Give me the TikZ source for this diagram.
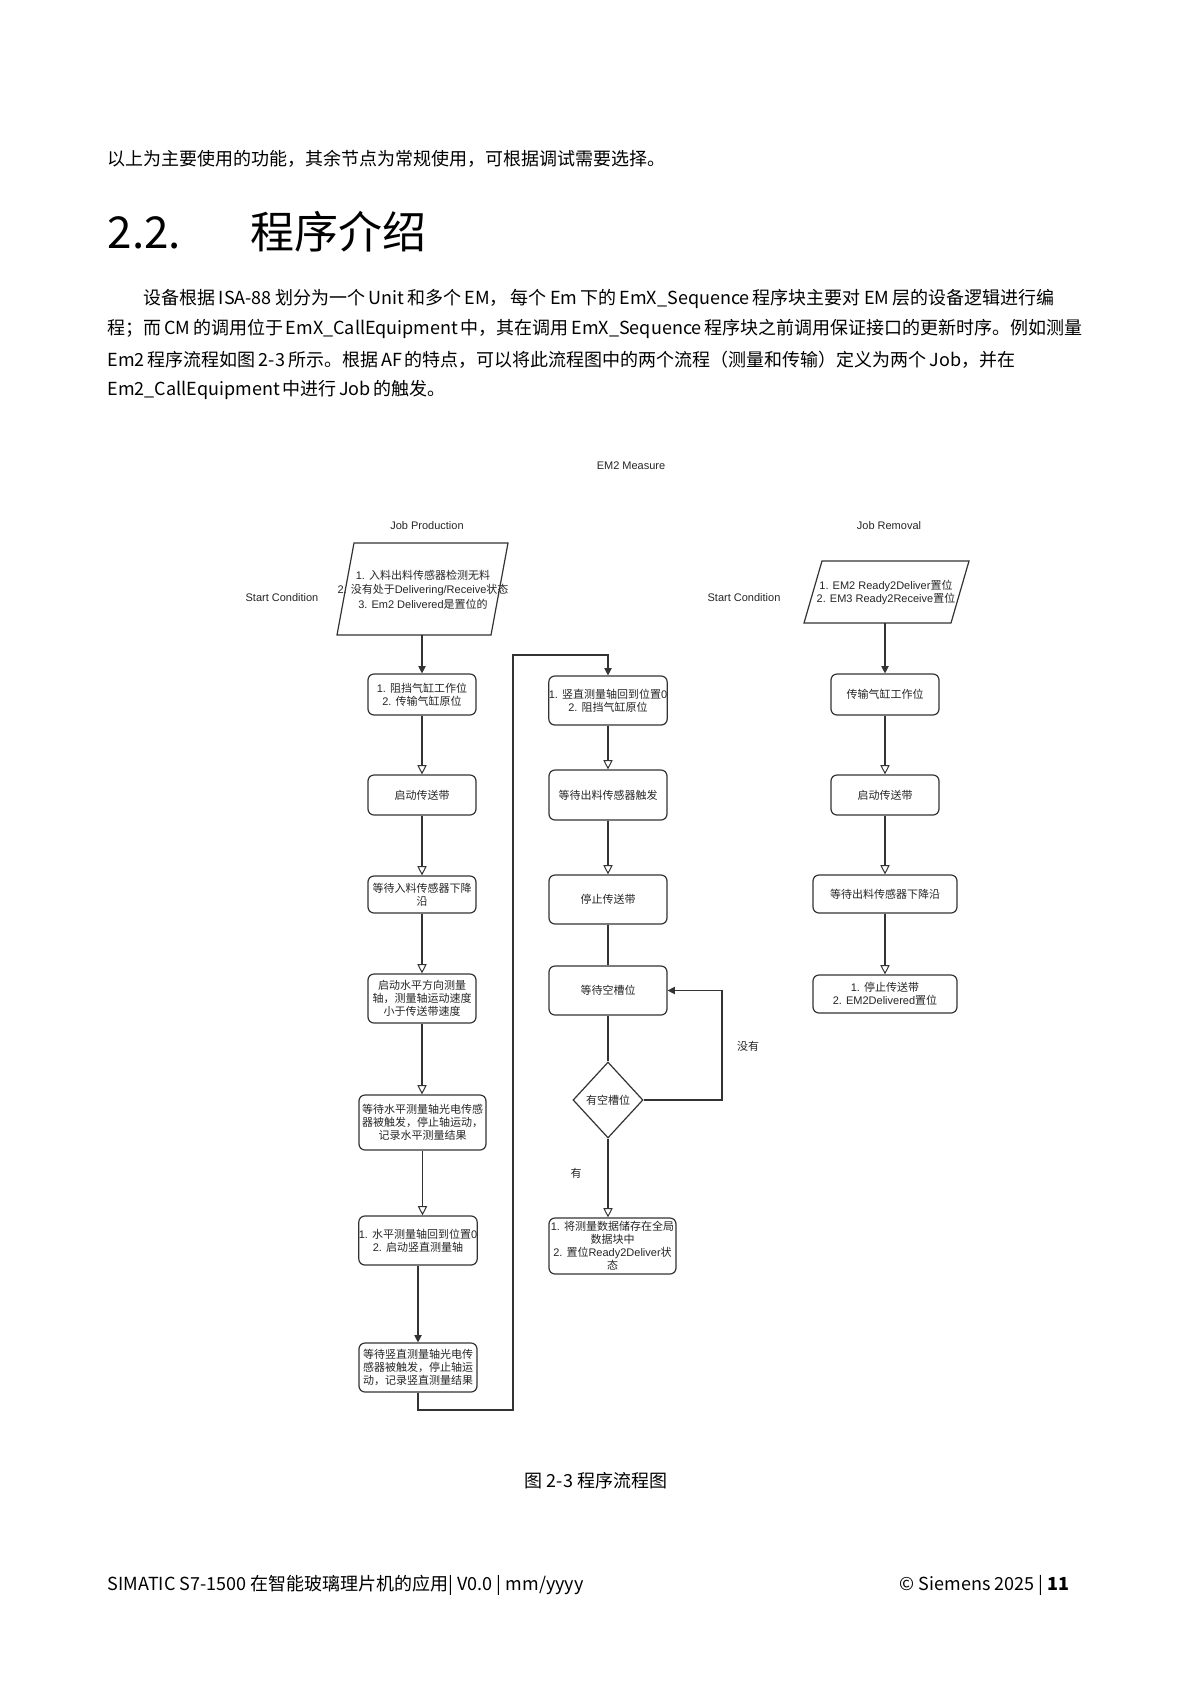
\documentclass[tikz,border=0pt]{standalone}
\usepackage{fontspec}
\setmainfont{Liberation Sans}
\newfontfamily\cjk{Noto Sans CJK SC}
\usetikzlibrary{arrows.meta,shapes.geometric}
\XeTeXlinebreaklocale "zh"
\XeTeXlinebreakskip=0pt plus 1pt minus 0.3pt
\newXeTeXintercharclass\cjkcls
\makeatletter
\count@="3000
\loop
  \XeTeXcharclass\count@=\cjkcls
  \ifnum\count@<"9FFF \advance\count@ by 1
\repeat
\count@="FF00
\loop
  \XeTeXcharclass\count@=\cjkcls
  \ifnum\count@<"FFEF \advance\count@ by 1
\repeat
\makeatother
\XeTeXinterchartoks 0 \cjkcls = {\cjk}
\XeTeXinterchartoks 4095 \cjkcls = {\cjk}
\XeTeXinterchartoks \cjkcls 0 = {\rmfamily}
\XeTeXinterchartoks \cjkcls 4095 = {\rmfamily}
\tikzset{
  btext/.style={inner sep=0pt, font={\cjk\fontsize{9}{12}\selectfont}},
  hfont/.style={inner sep=0pt, font={\cjk\fontsize{22}{26}\selectfont}},
  dtext/.style={inner sep=0pt, align=center, text=black!85, font={\fontsize{5.5}{6.5}\selectfont\XeTeXinterchartokenstate=1\relax}},
  ptext/.style={inner sep=0pt, align=center, text=black!85, font={\fontsize{5.5}{7.25}\selectfont\XeTeXinterchartokenstate=1\relax}},
  box/.style={dtext, draw=black!80, rounded corners=3pt},
  dia/.style={dtext, draw=black!80, diamond, minimum width=35pt, minimum height=38pt},
  pline/.style={draw=black!80},
  conn/.style={draw=black!80},
  oarr/.style={conn, -{Triangle[open,fill=white,length=4.6pt,width=4.6pt,line width=0.5pt]}},
  farr/.style={conn, -{Triangle[length=3.6pt,width=3.6pt]}}
}
\newcommand\mybox[6]{\node[box, minimum width={(#4-#2)/2}, minimum height={(#5-#3)/2}] (#1) at ({(#2+#4)/2},{(#3+#5)/2}) {#6};}
\begin{document}
\begin{tikzpicture}[x=0.5pt,y=-0.5pt,line width=0.6pt]
\useasboundingbox (0,0) rectangle (1190,1683);
\fill[white] (0,0) rectangle (1190,1683);
% page text
\node[btext, anchor=west] (t0) at (107,159) {\makebox[279pt][s]{以上为主要使用的功能，其余节点为常规使用，可根据调试需要选择。}};
\node[hfont, anchor=base west] (h1) at (107,248) {2.2.};
\node[hfont, anchor=base west] (h2) at (250,248) {程序介绍};
\node[btext, anchor=west] (p1) at (143,299) {\makebox[455.5pt][s]{设备根据 ISA-88 划分为一个 Unit 和多个 EM， 每个 Em 下的 EmX\_Sequence 程序块主要对 EM 层的设备逻辑进行编}};
\node[btext, anchor=west] (p2) at (107,329) {\makebox[482pt][s]{程；而 CM 的调用位于 EmX\_CallEquipment 中，其在调用 EmX\_Sequence 程序块之前调用保证接口的更新时序。例如测量}};
\node[btext, anchor=west] (p3) at (107,360) {\makebox[454pt][s]{Em2 程序流程如图 2-3 所示。根据 AF 的特点，可以将此流程图中的两个流程（测量和传输）定义为两个 Job，并在}};
\node[btext, anchor=west] (p4) at (107,390) {\makebox[159pt][s]{Em2\_CallEquipment 中进行 Job 的触发。}};
\node[btext] (cap) at (596,1481) {图 2-3 程序流程图};
\node[btext, anchor=west] (f1) at (107,1585) {SIMATIC S7-1500 在智能玻璃理片机的应用| V0.0 | mm/yyyy};
\node[btext, anchor=east] (f2) at (1070,1585) {© Siemens 2025 | \textbf{11}};
% diagram titles
\node[dtext] (tEM) at (631,466) {EM2 Measure};
\node[dtext] (tJP) at (427,526) {Job Production};
\node[dtext] (tJR) at (889,526) {Job Removal};
\node[dtext] (sc1) at (282,598) {Start Condition};
\node[dtext] (sc2) at (744,598) {Start Condition};
% start conditions
\draw[pline] (354,543) -- (508,543) -- (491,635) -- (337,635) -- cycle;
\node[ptext] (P1) at (423,589.5) {1. 入料出料传感器检测无料\\2. 没有处于Delivering/Receive状态\\3. Em2 Delivered是置位的};
\coordinate (P1s) at (422,635);
\draw[pline] (822,561) -- (969,561) -- (951,623) -- (804,623) -- cycle;
\node[dtext] (P2) at (886,592.5) {1. EM2 Ready2Deliver置位\\2. EM3 Ready2Receive置位};
\coordinate (P2s) at (885,623);
% left column
\mybox{B1}{368}{674}{476}{715}{1. 阻挡气缸工作位\\2. 传输气缸原位}
\mybox{B2}{368}{775}{476}{815}{启动传送带}
\mybox{B3}{368}{876}{476}{913}{等待入料传感器下降\\沿}
\mybox{B4}{368}{974}{476}{1023}{启动水平方向测量\\轴，测量轴运动速度\\小于传送带速度}
\mybox{B5}{359}{1095}{486}{1150}{等待水平测量轴光电传感\\器被触发，停止轴运动，\\记录水平测量结果}
\mybox{B6}{359}{1216}{477}{1265}{1. 水平测量轴回到位置0\\2. 启动竖直测量轴}
\mybox{B7}{359}{1343}{477}{1392}{等待竖直测量轴光电传\\感器被触发，停止轴运\\动，记录竖直测量结果}
% middle column
\mybox{B8}{549}{676}{667}{725}{1. 竖直测量轴回到位置0\\2. 阻挡气缸原位}
\mybox{B9}{549}{770}{667}{820}{等待出料传感器触发}
\mybox{B10}{549}{875}{667}{924}{停止传送带}
\mybox{B11}{549}{966}{667}{1015}{等待空槽位}
\node[dia] (D) at (608,1100) {有空槽位};
\mybox{B12}{549}{1218}{676}{1274}{1. 将测量数据储存在全局\\数据块中\\2. 置位Ready2Deliver状\\态}
\node[dtext] (lno) at (748,1046) {没有};
\node[dtext] (lyes) at (576,1173) {有};
% right column
\mybox{R1}{831}{674}{939}{715}{传输气缸工作位}
\mybox{R2}{831}{775}{939}{815}{启动传送带}
\mybox{R3}{813}{875}{957}{913}{等待出料传感器下降沿}
\mybox{R4}{813}{975}{957}{1013}{1. 停止传送带\\2. EM2Delivered置位}
% connectors
\draw[farr] (P1s) -- (P1s |- B1.north);
\draw[oarr] (B1) -- (B2);
\draw[oarr] (B2) -- (B3);
\draw[oarr] (B3) -- (B4);
\draw[oarr] (B4.south) -- (B4.south |- B5.north);
\draw[oarr] (B5.south) -- (B5.south |- B6.north);
\draw[farr] (B6) -- (B7);
\coordinate (r1) at (513,1410);
\coordinate (r2) at (513,655);
\draw[farr] (B7.south) |- (r1) -- (r2) -| (B8.north);
\draw[oarr] (B8) -- (B9);
\draw[oarr] (B9) -- (B10);
\draw[conn] (B10) -- (B11);
\draw[conn] (B11) -- (D);
\draw[oarr] (D.south) -- (D.south |- B12.north);
\coordinate (lp) at (722,1100);
\draw[farr] (D.east) -- (lp) |- (B11.east);
\draw[farr] (P2s) -- (P2s |- R1.north);
\draw[oarr] (R1) -- (R2);
\draw[oarr] (R2) -- (R3);
\draw[oarr] (R3) -- (R4);
\end{tikzpicture}
\end{document}
